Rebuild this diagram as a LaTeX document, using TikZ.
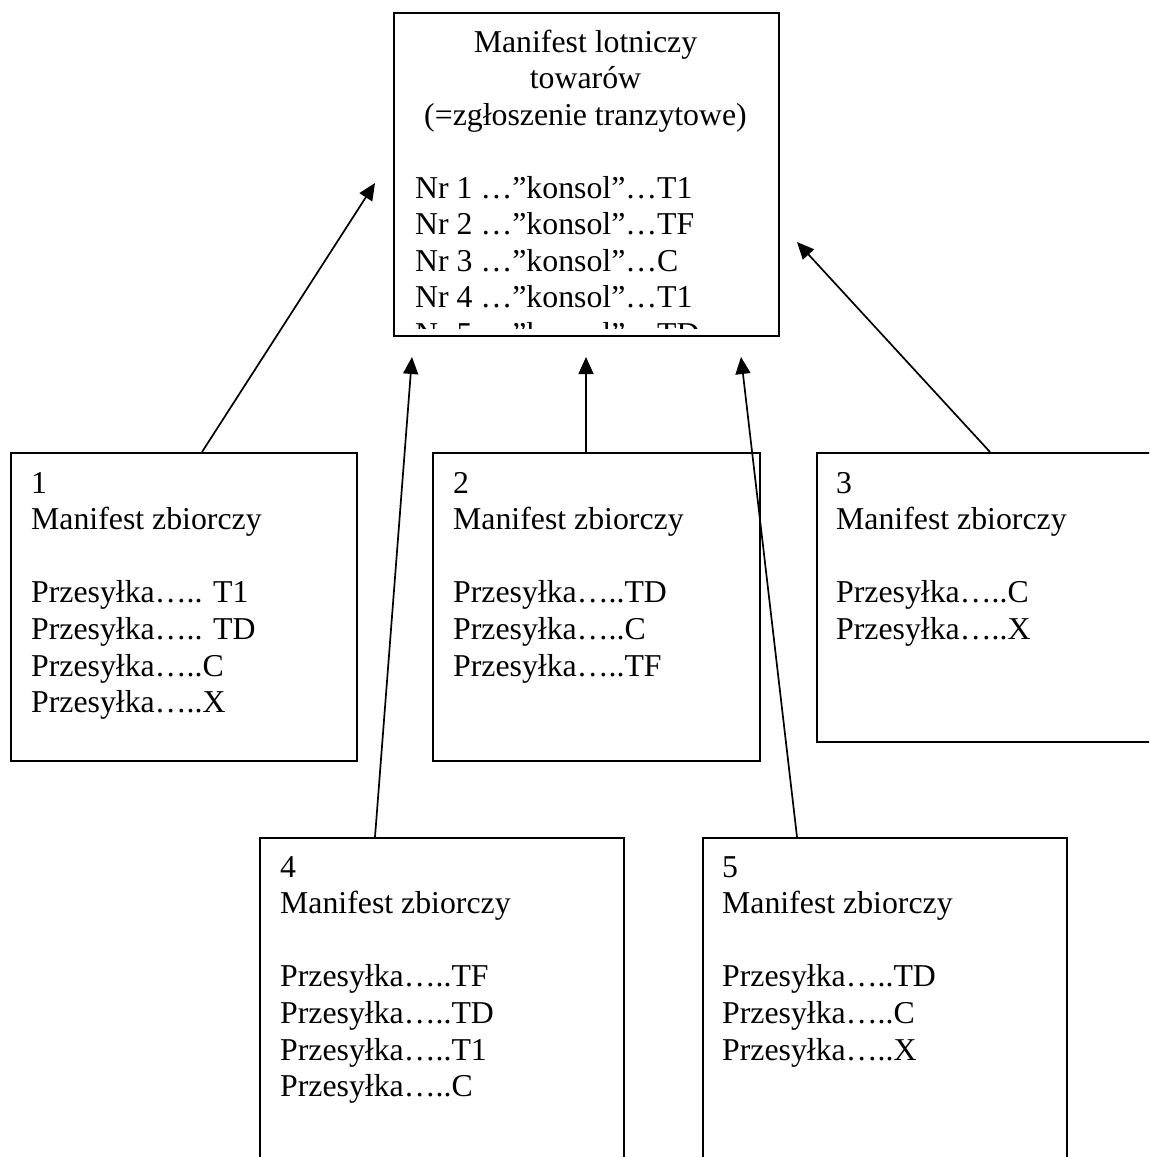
\documentclass[tikz,border=0pt]{standalone}
\usepackage{fontspec}
\setmainfont{Liberation Serif}
\usetikzlibrary{arrows.meta}
\begin{document}
\begin{tikzpicture}[x=1pt,y=-1pt,
  box/.style={draw=black, line width=2pt, rectangle, inner sep=0pt, anchor=north west},
  txt/.style={inner sep=0pt, font=\fontsize{31.8}{36.6}\selectfont},
  arr/.style={draw=black, line width=1.7pt, -{Triangle[length=17pt,width=15pt]}}]
\clip (0,0) rectangle (1149,1157);
\fill[white] (0,0) rectangle (1149,1157);
% boxes
\node[box, minimum width=385pt, minimum height=323pt] (top) at (393,12) {};
\node[box, minimum width=346pt, minimum height=308pt] (b1) at (10,452) {};
\node[box, minimum width=327pt, minimum height=308pt] (b2) at (432,452) {};
\node[box, minimum width=360pt, minimum height=289pt] (b3) at (816,452) {};
\node[box, minimum width=364pt, minimum height=340pt] (b4) at (259,837) {};
\node[box, minimum width=364pt, minimum height=340pt] (b5) at (702,837) {};
% top text
\node[txt, anchor=base] (toptitle) at (585.5,52) {\begin{tabular}[t]{@{}c@{}}Manifest lotniczy\\towarów\\(=zgłoszenie tranzytowe)\end{tabular}};
\begin{scope}
\clip (395,14) rectangle (776,328);
\node[txt, anchor=base west] (toplist) at (415,198) {\begin{tabular}[t]{@{}l@{}}Nr 1 …”konsol”…T1\\Nr 2 …”konsol”…TF\\Nr 3 …”konsol”…C\\Nr 4 …”konsol”…T1\\Nr 5 …”konsol”…TD\end{tabular}};
\end{scope}
% box texts
\node[txt, anchor=base west] (t1) at (31,493) {\begin{tabular}[t]{@{}l@{}}1\\Manifest zbiorczy\\ \\Przesyłka….. T1\\Przesyłka….. TD\\Przesyłka…..C\\Przesyłka…..X\end{tabular}};
\node[txt, anchor=base west] (t2) at (453,493) {\begin{tabular}[t]{@{}l@{}}2\\Manifest zbiorczy\\ \\Przesyłka…..TD\\Przesyłka…..C\\Przesyłka…..TF\end{tabular}};
\node[txt, anchor=base west] (t3) at (836,493) {\begin{tabular}[t]{@{}l@{}}3\\Manifest zbiorczy\\ \\Przesyłka…..C\\Przesyłka…..X\end{tabular}};
\node[txt, anchor=base west] (t4) at (280,877) {\begin{tabular}[t]{@{}l@{}}4\\Manifest zbiorczy\\ \\Przesyłka…..TF\\Przesyłka…..TD\\Przesyłka…..T1\\Przesyłka…..C\end{tabular}};
\node[txt, anchor=base west] (t5) at (722,877) {\begin{tabular}[t]{@{}l@{}}5\\Manifest zbiorczy\\ \\Przesyłka…..TD\\Przesyłka…..C\\Przesyłka…..X\end{tabular}};
% arrow tips
\coordinate (tip1) at (375,183);
\coordinate (tip2) at (586,357);
\coordinate (tip3) at (797,242);
\coordinate (tip4) at (412,357);
\coordinate (tip5) at (741,357);
% arrows
\draw[arr] ([xshift=192pt]b1.north west) -- (tip1);
\draw[arr] ([xshift=154pt]b2.north west) -- (tip2);
\draw[arr] ([xshift=174pt]b3.north west) -- (tip3);
\draw[arr] ([xshift=116pt]b4.north west) -- (tip4);
\draw[arr] ([xshift=95pt]b5.north west) -- (tip5);
\end{tikzpicture}
\end{document}
